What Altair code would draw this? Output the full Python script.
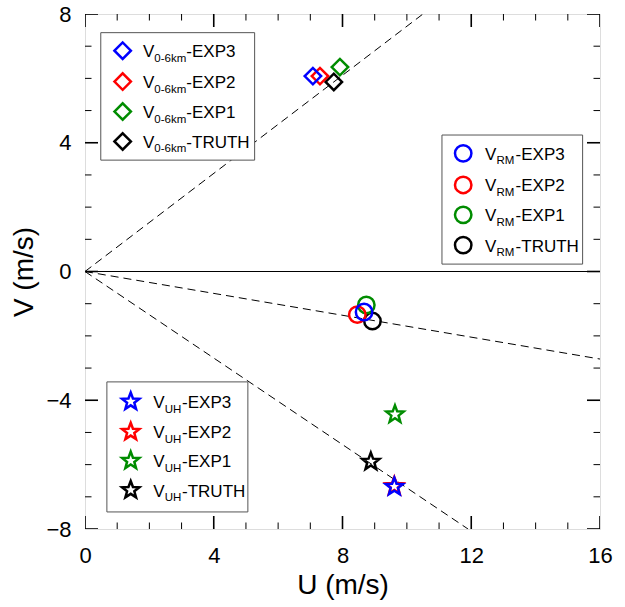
import altair as alt
import pandas as pd

FONT = "Liberation Sans"
W, H = 515, 515

# ---------------- data ----------------
exps = ["EXP3", "EXP2", "EXP1", "TRUTH"]
colors = ["#0000FF", "#FF0000", "#008C00", "#000000"]

# 0-6 km mean wind (diamonds)
v06_u = [7.08, 7.30, 7.92, 7.73]
v06_v = [6.07, 6.07, 6.35, 5.89]
# right-mover storm motion (circles)
vrm_u = [8.67, 8.46, 8.74, 8.93]
vrm_v = [-1.26, -1.34, -1.04, -1.54]
# UH-based storm motion (stars)
vuh_u = [9.61, 9.61, 9.63, 8.88]
vuh_v = [-6.69, -6.67, -4.44, -5.91]

# dashed reference lines from the origin (end points on the frame)
ref_u_end = [10.5, 16.0, 11.9]
ref_v_end = [8.0, -2.72, -8.0]

x_tick_labels = [0, 4, 8, 12, 16]
y_tick_labels = [-8, -4, 0, 4, 8]

# ---------------- helpers ----------------
xs = alt.Scale(domain=[0, 16], nice=False, zero=False)
ys = alt.Scale(domain=[-8, 8], nice=False, zero=False)

xaxis = alt.Axis(values=x_tick_labels, title="U (m/s)", tickSize=0, domain=False, grid=False,
                 labelPadding=16, labelFontSize=22, titleFontSize=28, titlePadding=5,
                 labelFont=FONT, titleFont=FONT, titleFontWeight="normal",
                 labelColor="black", titleColor="black", labelFlush=False, labelOverlap=False,
                 format="d")
yaxis = alt.Axis(values=y_tick_labels, title="V (m/s)", tickSize=0, domain=False, grid=False,
                 labelPadding=14, labelFontSize=22, titleFontSize=28, titlePadding=7,
                 labelFont=FONT, titleFont=FONT, titleFontWeight="normal",
                 labelColor="black", titleColor="black", labelFlush=False, labelOverlap=False,
                 format="d")


def X(f):
    return alt.X(f, type="quantitative", scale=xs, axis=xaxis)


def Y(f):
    return alt.Y(f, type="quantitative", scale=ys, axis=yaxis)


color_enc = alt.Color("exp:N", scale=alt.Scale(domain=exps, range=colors), legend=None)

STAR = ("M0,-1 L0.247,-0.34 L0.951,-0.309 L0.399,0.13 L0.588,0.809 L0,0.42 "
        "L-0.588,0.809 L-0.399,0.13 L-0.951,-0.309 L-0.247,-0.34 Z")

order = [3, 2, 1, 0]  # draw TRUTH first, EXP3 last


def pts(us, vs):
    return pd.DataFrame({"exp": [exps[i] for i in order],
                         "u": [us[i] for i in order],
                         "v": [vs[i] for i in order]})


layers = []

# zero line
zero_df = pd.DataFrame({"u": [0], "u2": [16], "v": [0]})
layers.append(alt.Chart(zero_df).mark_rule(color="black", strokeWidth=1).encode(
    x=X("u"), x2="u2", y=Y("v")))

# dashed reference lines
ref_rows = []
for i, (ue, ve) in enumerate(zip(ref_u_end, ref_v_end)):
    ref_rows.append({"id": i, "u": 0.0, "v": 0.0})
    ref_rows.append({"id": i, "u": ue, "v": ve})
layers.append(alt.Chart(pd.DataFrame(ref_rows)).mark_line(
    color="black", strokeWidth=1, strokeDash=[8, 5], clip=True).encode(
    x=X("u"), y=Y("v"), detail="id:N"))

# inward ticks on all four sides
major_x = [0, 4, 8, 12, 16]
minor_x = [t for t in range(0, 17) if t not in major_x]
major_y = [-8, -4, 0, 4, 8]
minor_y = [t for t in range(-8, 9) if t not in major_y]
for vals, ln, th in [(major_x, 13, 1.6), (minor_x, 6.5, 1.0)]:
    d = pd.DataFrame({"t": vals})
    for ypix in [0, H]:
        layers.append(alt.Chart(d).mark_tick(orient="vertical", size=2 * ln, thickness=th,
                                              color="black", clip=True, opacity=1).encode(
            x=X("t"), y=alt.value(ypix)))
for vals, ln, th in [(major_y, 13, 1.6), (minor_y, 6.5, 1.0)]:
    d = pd.DataFrame({"t": vals})
    for xpix in [0, W]:
        layers.append(alt.Chart(d).mark_tick(orient="horizontal", size=2 * ln, thickness=th,
                                              color="black", clip=True, opacity=1).encode(
            y=Y("t"), x=alt.value(xpix)))

# data symbols
SYM_SW = 2.5
layers.append(alt.Chart(pts(v06_u, v06_v)).mark_point(
    shape="diamond", size=270, filled=False, strokeWidth=SYM_SW, opacity=1).encode(
    x=X("u"), y=Y("v"), color=color_enc))
layers.append(alt.Chart(pts(vrm_u, vrm_v)).mark_point(
    shape="circle", size=270, filled=False, strokeWidth=SYM_SW, opacity=1).encode(
    x=X("u"), y=Y("v"), color=color_enc))
layers.append(alt.Chart(pts(vuh_u, vuh_v)).mark_point(
    shape=STAR, size=330, filled=False, strokeWidth=SYM_SW, opacity=1).encode(
    x=X("u"), y=Y("v"), color=color_enc))

# ---------------- legends (layout in data units) ----------------
legends = [
    dict(sub="0-6km", box=(0.49, 5.27, 7.42, 3.46), rows=[6.86, 5.90, 4.97, 4.04],
         su=1.17, tu=1.80, shape="diamond", size=270, rest_dx=43.4),
    dict(sub="RM", box=(11.09, 15.46, 4.24, 0.23), rows=[3.67, 2.69, 1.76, 0.82],
         su=11.75, tu=12.43, shape="circle", size=270, rest_dx=30.5),
    dict(sub="UH", box=(0.68, 5.06, -3.43, -7.47), rows=[-4.04, -4.98, -5.88, -6.79],
         su=1.42, tu=2.12, shape=STAR, size=330, rest_dx=28.8),
]

FS_MAIN, FS_SUB = 17, 11.5
for lg in legends:
    b = lg["box"]
    bdf = pd.DataFrame({"u1": [b[0]], "u2": [b[1]], "v1": [b[2]], "v2": [b[3]]})
    layers.append(alt.Chart(bdf).mark_rect(fill="white", stroke="#555555", strokeWidth=1).encode(
        x=X("u1"), x2="u2", y=Y("v1"), y2="v2"))
    ldf = pd.DataFrame({"exp": exps, "v": lg["rows"], "su": [lg["su"]] * 4,
                        "tu": [lg["tu"]] * 4, "rest": ["-" + e for e in exps]})
    layers.append(alt.Chart(ldf).mark_point(
        shape=lg["shape"], size=lg["size"], filled=False, strokeWidth=SYM_SW, opacity=1).encode(
        x=X("su"), y=Y("v"), color=color_enc))
    layers.append(alt.Chart(ldf).mark_text(
        text="V", align="left", baseline="alphabetic", dy=6.5, font=FONT,
        fontSize=FS_MAIN, color="black").encode(x=X("tu"), y=Y("v")))
    layers.append(alt.Chart(ldf).mark_text(
        text=lg["sub"], align="left", baseline="alphabetic", dx=11.4, dy=11, font=FONT,
        fontSize=FS_SUB, color="black").encode(x=X("tu"), y=Y("v")))
    layers.append(alt.Chart(ldf).mark_text(
        align="left", baseline="alphabetic", dx=lg["rest_dx"], dy=6.5, font=FONT,
        fontSize=FS_MAIN, color="black").encode(x=X("tu"), y=Y("v"), text="rest:N"))

chart = alt.layer(*layers).properties(
    width=W, height=H,
    padding={"left": 85, "top": 14, "right": 25, "bottom": 78},
    autosize=alt.AutoSizeParams(type="none"),
).configure_view(stroke="black", strokeWidth=2).configure(background="white")

chart.save("out.html", embed_options={"renderer": "svg", "actions": False})
